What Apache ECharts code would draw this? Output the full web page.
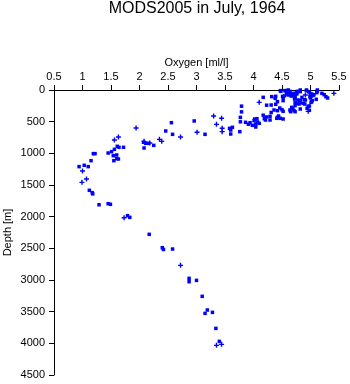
<!DOCTYPE html>
<html><head><meta charset="utf-8">
<script src="https://cdn.jsdelivr.net/npm/echarts@6/dist/echarts.min.js"></script>
<style>html,body{margin:0;padding:0;background:#fff}#c{width:350px;height:384px}</style>
</head><body><div id="c"></div>
<script>
var titleText = 'MODS2005 in July, 1964';
var xName = 'Oxygen [ml/l]';
var yName = 'Depth [m]';
var xTicks = [0.5, 5.5, 0.5];   // min, max, step
var yTicks = [0, 4500, 500];

// [oxygen ml/l, depth m] drawn as small squares
var squarePts = [
[3.79,255],[3.79,345],[3.77,432],[3.77,502],[3.86,510],[3.91,540],[3.94,516],[3.98,558],[4.04,584],[4.02,458],[4.06,453],[4.01,484],[4.04,537],[4.07,505],[4.10,526],
[4.17,116],[4.23,240],[4.17,398],[4.19,453],[4.21,474],[4.23,426],[4.29,474],[4.31,237],[4.31,355],[4.29,416],[4.36,316],[4.38,132],[4.39,226],[4.42,326],[4.42,432],[4.42,184],[4.44,410],[4.41,447],[4.46,284],[4.47,447],[4.50,311],[4.52,337],[4.52,458],
[4.47,10],[4.48,21],[4.52,116],[4.52,168],[4.55,10],[4.58,10],[4.58,42],[4.61,0],[4.64,21],[4.64,53],[4.67,63],[4.61,79],[4.67,274],[4.64,316],[4.65,342],[4.69,289],[4.71,326],[4.71,53],[4.73,247],[4.73,195],[4.72,142],[4.73,105],[4.73,132],[4.76,63],[4.76,42],[4.76,211],[4.73,342],[4.78,158],[4.80,221],[4.77,21],[4.82,0],[4.82,26],[4.85,116],[4.82,195],[4.82,168],[4.82,300],[4.87,211],[4.89,153],[4.90,221],[4.91,158],[4.94,289],[4.96,258],[4.98,321],[5.00,126],[5.03,168],[4.93,10],[4.93,0],[4.98,32],[5.02,63],[4.99,105],[5.02,95],[5.06,74],[5.05,79],[5.11,42],[5.12,21],[5.12,0],[5.20,53],[5.24,74],[5.27,105],[5.30,126],[5.10,147],[5.01,195],[5.02,184],[4.98,253],[4.32,105],[4.39,100],[4.51,100],[4.66,95],[4.70,90],
[3.60,632],[3.60,695],[3.58,605],[3.63,589],[3.76,658],[3.15,700],[2.96,489],[2.56,516],[2.58,700],[2.46,647],[2.25,874],[2.16,842],[2.11,842],[2.08,916],[2.07,826],
[1.45,995],[1.51,974],[1.56,937],[1.54,1037],[1.60,1026],[1.63,1089],[1.60,1084],[1.55,1116],[1.61,889],[1.64,905],[1.72,905],[1.19,1005],[1.22,1005],[1.15,1116],[0.94,1210],[1.03,1189],[1.10,1210],
[1.12,1584],[1.17,1621],[1.18,1640],[1.29,1812],[1.45,1795],[1.49,1805],[1.79,1984],[1.83,2011],[2.17,2279],[2.40,2490],[2.42,2518],[2.58,2511],[2.87,2974],[2.87,3027],[3.00,3006],[3.10,3258],[3.19,3474],[3.15,3527],[3.28,3511],[3.34,3764],[3.40,3969]
];
// [oxygen ml/l, depth m] drawn as small crosses
var plusPts = [
[4.10,195],[4.56,79],[4.91,79],[4.96,337],[4.98,42],[5.41,53],
[3.30,410],[3.44,447],[3.35,542],[3.45,605],[3.45,658],[3.01,668],[2.72,742],[2.35,779],[2.39,811],[2.18,837],[2.08,811],[1.94,600],
[1.56,790],[1.63,742],[1.00,1279],[1.07,1405],[0.99,1458],
[1.73,2016],[2.72,2769],[3.44,4016],[3.35,4032]
];

var FONT = 'Liberation Sans, Arial, Helvetica, sans-serif';
var chart = echarts.init(document.getElementById('c'), null, {renderer:'canvas'});
chart.setOption({
  animation:false,
  backgroundColor:'#fff',
  title:{text:titleText,left:197,top:1,padding:0,textAlign:'center',
    textStyle:{fontFamily:FONT,fontSize:16,fontWeight:'normal',color:'#000'}},
  grid:{left:54,top:90,width:285,height:285,containLabel:false,outerBoundsMode:'none'},
  xAxis:{type:'value',position:'top',min:xTicks[0],max:xTicks[1],interval:xTicks[2],
    name:xName,nameLocation:'middle',nameGap:22,nameMoveOverlap:false,
    nameTextStyle:{fontFamily:FONT,fontSize:11,color:'#000'},
    axisLine:{onZero:false,lineStyle:{color:'#000',width:1}},
    axisTick:{show:true,length:5,inside:false,lineStyle:{color:'#000'}},
    axisLabel:{fontFamily:FONT,fontSize:11,color:'#000',margin:8,
      formatter:function(v){return String(v);}},
    splitLine:{show:false}},
  yAxis:{type:'value',inverse:true,min:yTicks[0],max:yTicks[1],interval:yTicks[2],
    name:yName,nameLocation:'middle',nameGap:41,nameMoveOverlap:false,
    nameTextStyle:{fontFamily:FONT,fontSize:11,color:'#000'},
    axisLine:{show:true,onZero:false,lineStyle:{color:'#000',width:1}},
    axisTick:{show:true,length:5,lineStyle:{color:'#000'}},
    axisLabel:{fontFamily:FONT,fontSize:11,color:'#000',margin:9,
      formatter:function(v){return String(v);}},
    splitLine:{show:false}},
  series:[
    {type:'scatter',data:squarePts,symbol:'rect',symbolSize:3.5,silent:true,
     itemStyle:{color:'#0000ff',opacity:1}},
    {type:'scatter',data:plusPts,symbol:'path://M1.8,0H3.2V1.8H5V3.2H3.2V5H1.8V3.2H0V1.8H1.8Z',symbolSize:5,silent:true,
     itemStyle:{color:'#0000ff',opacity:1}}
  ]
});
</script></body></html>
